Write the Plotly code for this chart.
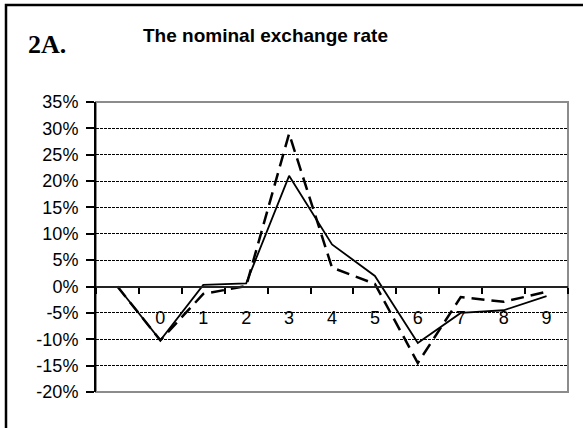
import plotly.graph_objects as go

categories = ["", "0", "1", "2", "3", "4", "5", "6", "7", "8", "9"]
series_solid = [0.0, -10.2, 0.3, 0.6, 21.0, 8.0, 2.0, -10.7, -5.0, -4.5, -1.8]
series_dashed = [0.0, -10.2, -1.4, 0.1, 29.0, 3.6, 0.5, -14.5, -2.0, -2.9, -1.0]
y_ticks = [-20, -15, -10, -5, 0, 5, 10, 15, 20, 25, 30, 35]
y_tick_labels = [f"{v}%" for v in y_ticks]

xpos = list(range(len(categories)))
boundaries = [p - 0.5 for p in xpos] + [xpos[-1] + 0.5]

W, H = 583, 428
ML, MR, MT, MB = 96, 15, 102, 36
pw, ph = W - ML - MR, H - MT - MB

fig = go.Figure()
fig.add_trace(go.Scatter(x=xpos, y=series_dashed, mode="lines",
                         line=dict(color="black", width=2.5, dash="13px,7px"),
                         showlegend=False, hoverinfo="skip"))
fig.add_trace(go.Scatter(x=xpos, y=series_solid, mode="lines",
                         line=dict(color="black", width=1.8),
                         showlegend=False, hoverinfo="skip"))

ymin, ymax = y_ticks[0], y_ticks[-1]
font_axis = "Liberation Sans, Arial, sans-serif"

fig.update_layout(
    width=W, height=H,
    margin=dict(l=ML, r=MR, t=MT, b=MB, pad=0),
    paper_bgcolor="white", plot_bgcolor="white",
    font=dict(family=font_axis, size=18, color="black"),
    title=dict(text="<b>The nominal exchange rate</b>", x=265.5 / W, xref="container",
               xanchor="center", y=1 - 35 / H, yref="container", yanchor="middle",
               font=dict(family=font_axis, size=19, color="black")),
    xaxis=dict(range=[boundaries[0], boundaries[-1]], tickmode="array",
               tickvals=xpos, ticktext=categories, ticks="",
               showgrid=False, zeroline=False, showline=True,
               linecolor="#222222", linewidth=2,
               anchor="free", position=(0 - ymin) / (ymax - ymin),
               ticklabelstandoff=15,
               tickfont=dict(family=font_axis, size=18, color="black"),
               minor=dict(tickmode="array", tickvals=boundaries, ticks="outside",
                          ticklen=6, tickwidth=1.5, tickcolor="black", showgrid=False)),
    yaxis=dict(range=[ymin, ymax], tickmode="array", tickvals=y_ticks,
               ticktext=y_tick_labels, ticks="outside", ticklen=8, tickwidth=1.5,
               tickcolor="black", showline=True, linecolor="black", linewidth=2,
               showgrid=True, gridcolor="black", gridwidth=1, griddash="3px,1px",
               zeroline=False, ticklabelstandoff=4,
               tickfont=dict(family=font_axis, size=18, color="black")),
    shapes=[
        dict(type="rect", xref="paper", yref="paper", x0=0, x1=1, y0=0, y1=1,
             line=dict(color="#8c8c8c", width=2), layer="below"),
        dict(type="rect", xref="paper", yref="paper",
             x0=(6 - ML) / pw, x1=1.2, y0=-0.3, y1=(MT + ph - 5) / ph,
             line=dict(color="black", width=2.5), layer="above"),
    ],
    annotations=[
        dict(text="<b>2A.</b>", xref="paper", yref="paper",
             x=(26 - ML) / pw, y=(MT + ph - 45) / ph, xanchor="left", yanchor="middle",
             showarrow=False,
             font=dict(family="Liberation Serif, Times New Roman, serif", size=26, color="black")),
    ],
)

fig.write_html("out.html")
